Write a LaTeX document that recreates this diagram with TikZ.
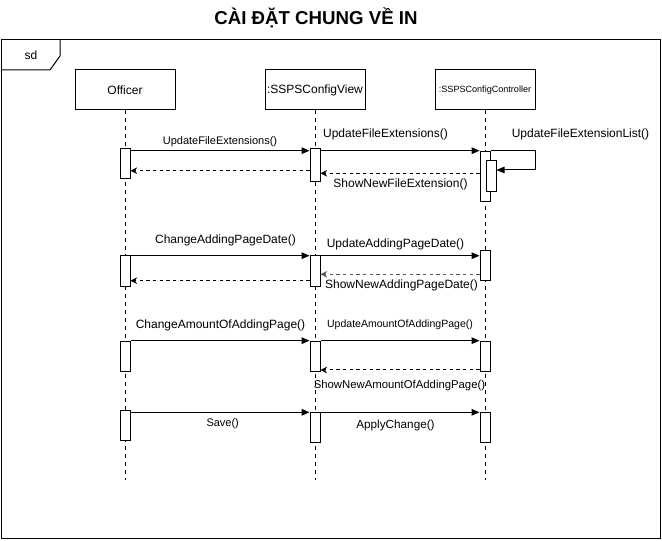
\documentclass[tikz,border=0pt]{standalone}
\usepackage{fontspec}
\setmainfont{Liberation Sans}
\usetikzlibrary{arrows.meta}

\begin{document}
\begin{tikzpicture}[x=0.75pt,y=0.75pt,yscale=-1,xscale=1,
  head/.style={draw,line width=0.75,minimum width=75pt,minimum height=30pt,inner sep=0pt,font=\fontsize{9}{11}\selectfont},
  act/.style={draw,fill=white,line width=0.75,minimum width=7.5pt,inner sep=0pt,anchor=north},
  lifeline/.style={line width=0.75,dash pattern=on 3pt off 3pt},
  msg/.style={line width=0.75,-{Triangle[length=6pt,width=5pt]}},
  reply/.style={line width=0.75,dash pattern=on 2.5pt off 2.5pt,-{Stealth[length=5pt,width=5pt]}},
  lbl/.style={font=\fontsize{8.25}{10}\selectfont,inner sep=0pt},
  lblbig/.style={font=\fontsize{9}{11}\selectfont,inner sep=0pt}]
\useasboundingbox (0,0) rectangle (662,541);

% Text Node
\node[font=\bfseries\fontsize{14}{17}\selectfont] (title) at (316,18) {CÀI ĐẶT CHUNG VỀ IN};

%Shape: Frame [id:sd]
\draw[line width=0.75] (1,40) rectangle (660,539);
\draw[line width=0.75] (1,70) -- (50,70) -- (60,56) -- (60,40);
% Text Node
\node[font=\fontsize{9}{11}\selectfont] (sd) at (31,55) {sd};

%Shape: Lifeline heads
\node[head] (officer) at (125,90) {Officer};
\node[head] (view) at (315,90) {:SSPSConfigView};
\node[head,font=\fontsize{6.8}{8}\selectfont] (ctrl) at (485,90) {:SSPSConfigController};

%Straight Lines [id:lifelines]
\coordinate (officerend) at (125,480);
\coordinate (viewend) at (315,480);
\coordinate (ctrlend) at (485,480);
\draw[lifeline] (officer) -- (officerend);
\draw[lifeline] (view) -- (viewend);
\draw[lifeline] (ctrl) -- (ctrlend);

%Shape: Activations
\node[act,minimum height=22.5pt] (oa1) at (125,148) {};
\node[act,minimum height=24.75pt] (va1) at (315,148) {};
\node[act,minimum height=37.5pt] (ca1) at (485,150.7) {};
\node[act,minimum height=23pt] (cs1) at (491,160) {};
\node[act,minimum height=23pt] (oa2) at (125,255) {};
\node[act,minimum height=23pt] (va2) at (315,255) {};
\node[act,minimum height=22.5pt] (ca2) at (485,250) {};
\node[act,minimum height=22.5pt] (oa3) at (125,340.7) {};
\node[act,minimum height=22.5pt] (va3) at (315,340.7) {};
\node[act,minimum height=22.5pt] (ca3) at (485,340.7) {};
\node[act,minimum height=22.5pt] (oa4) at (125,410) {};
\node[act,minimum height=22.5pt] (va4) at (315,412.3) {};
\node[act,minimum height=22.5pt] (ca4) at (485,412.3) {};

%Straight Lines [id:row1]
\draw[msg] (oa1.east |- 0,150.7) -- (va1.west |- 0,150.7);
\draw[msg] (va1.east |- 0,150.7) -- (ca1.west |- 0,150.7);
\coordinate (loop1) at (535.7,150.7);
\coordinate (loop2) at (535.7,170);
\draw[msg] (ca1.east |- loop1) -- (loop1) -- (loop2) -- (cs1.east |- loop2);
\draw[reply] (ca1.west |- 0,173.3) -- (va1.east |- 0,173.3);
\draw[reply] (va1.west |- 0,170.7) -- (oa1.east |- 0,170.7);
% Text Node
\node[lbl] (t11) at (220,141.7) {UpdateFileExtensions()};
\node[lblbig] (t12) at (385.5,134) {UpdateFileExtensions()};
\node[lblbig] (t13) at (580.5,134) {UpdateFileExtensionList()};
\node[lblbig] (t14) at (400.5,184) {ShowNewFileExtension()};

%Straight Lines [id:row2]
\draw[msg] (oa2.east |- 0,255.7) -- (va2.west |- 0,255.7);
\draw[msg] (va2.east |- 0,255.7) -- (ca2.west |- 0,255.7);
\draw[reply,draw=black!65] (ca2.west |- 0,274.3) -- (va2.east |- 0,274.3);
\draw[reply] (va2.west |- 0,280.7) -- (oa2.east |- 0,280.7);
% Text Node
\node[lblbig] (t21) at (225.5,240) {ChangeAddingPageDate()};
\node[lblbig] (t22) at (395.5,244) {UpdateAddingPageDate()};
\node[lblbig] (t23) at (401.5,285.5) {ShowNewAddingPageDate()};

%Straight Lines [id:row3]
\draw[msg] (oa3.east |- 0,340.7) -- (va3.west |- 0,340.7);
\draw[msg] (va3.east |- 0,340.7) -- (ca3.west |- 0,340.7);
\draw[reply] (ca3.west |- 0,370) -- (va3.east |- 0,370);
% Text Node
\node[lblbig] (t31) at (220.5,325) {ChangeAmountOfAddingPage()};
\node[lbl,font=\fontsize{7.9}{10}\selectfont] (t32) at (400,325) {UpdateAmountOfAddingPage()};
\node[lbl,font=\fontsize{8.5}{10}\selectfont] (t33) at (399.5,386) {ShowNewAmountOfAddingPage()};

%Straight Lines [id:row4]
\draw[msg] (oa4.east |- 0,412.3) -- (va4.west |- 0,412.3);
\draw[msg] (va4.east |- 0,412.3) -- (ca4.west |- 0,412.3);
% Text Node
\node[lbl] (t41) at (222.7,424) {Save()};
\node[lbl,font=\fontsize{8.8}{10}\selectfont] (t42) at (395.5,425.7) {ApplyChange()};

\end{tikzpicture}
\end{document}
